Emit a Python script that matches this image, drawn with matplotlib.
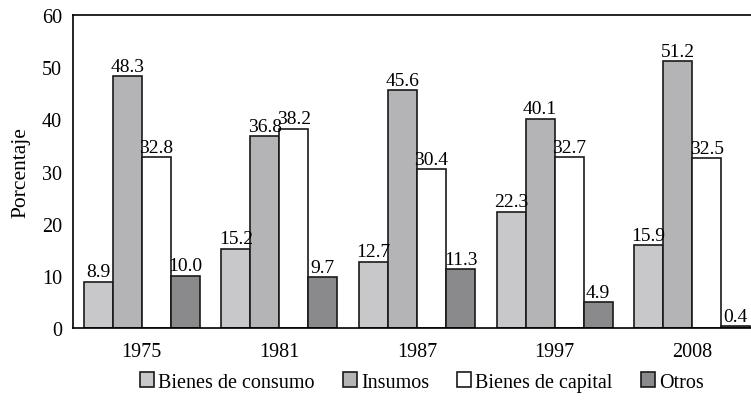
import matplotlib.pyplot as plt
import numpy as np

years = ['1975', '1981', '1987', '1997', '2008']
series = ['Bienes de consumo', 'Insumos', 'Bienes de capital', 'Otros']
consumo = [8.9, 15.2, 12.7, 22.3, 15.9]
insumos = [48.3, 36.8, 45.6, 40.1, 51.2]
capital = [32.8, 38.2, 30.4, 32.7, 32.5]
otros = [10.0, 9.7, 11.3, 4.9, 0.4]
colors = ['#c8c8ca', '#b4b4b6', '#ffffff', '#8a8a8c']

plt.rcParams['font.family'] = ['Liberation Serif', 'DejaVu Serif']

fig = plt.figure(figsize=(7.51, 4.02), dpi=100)
ax = fig.add_axes([73 / 751, 1 - 329 / 402, 688 / 751, 313 / 402])

x = np.arange(len(years))
width = 0.211
offsets = [-1.5, -0.5, 0.5, 1.5]
for vals, name, col, off in zip([consumo, insumos, capital, otros], series, colors, offsets):
    bars = ax.bar(x + off * width, vals, width, color=col, edgecolor='#1a1a1a',
                  linewidth=1.2, label=name)
    ax.bar_label(bars, labels=['{:.1f}'.format(v) for v in vals], padding=1, fontsize=14)

ax.set_xlim(-0.5, 4.5)
ax.set_ylim(0, 60)
ax.set_yticks(range(0, 61, 10))
ax.set_xticks(x)
ax.set_xticklabels(years)
ax.tick_params(axis='both', length=0, labelsize=14.5)
ax.tick_params(axis='x', pad=10)
ax.tick_params(axis='y', pad=8)
ax.set_ylabel('Porcentaje', fontsize=15.5, labelpad=8)
for side in ['left', 'bottom', 'top']:
    ax.spines[side].set_linewidth(1.2)
ax.spines['right'].set_visible(False)

fig.legend(loc='center', bbox_to_anchor=(422 / 751, 1 - 383 / 402), ncol=4,
           frameon=False, fontsize=14.5, handlelength=0.7, handleheight=0.7,
           handletextpad=0.2, columnspacing=1.4)

fig.savefig('out.png', dpi=100)
